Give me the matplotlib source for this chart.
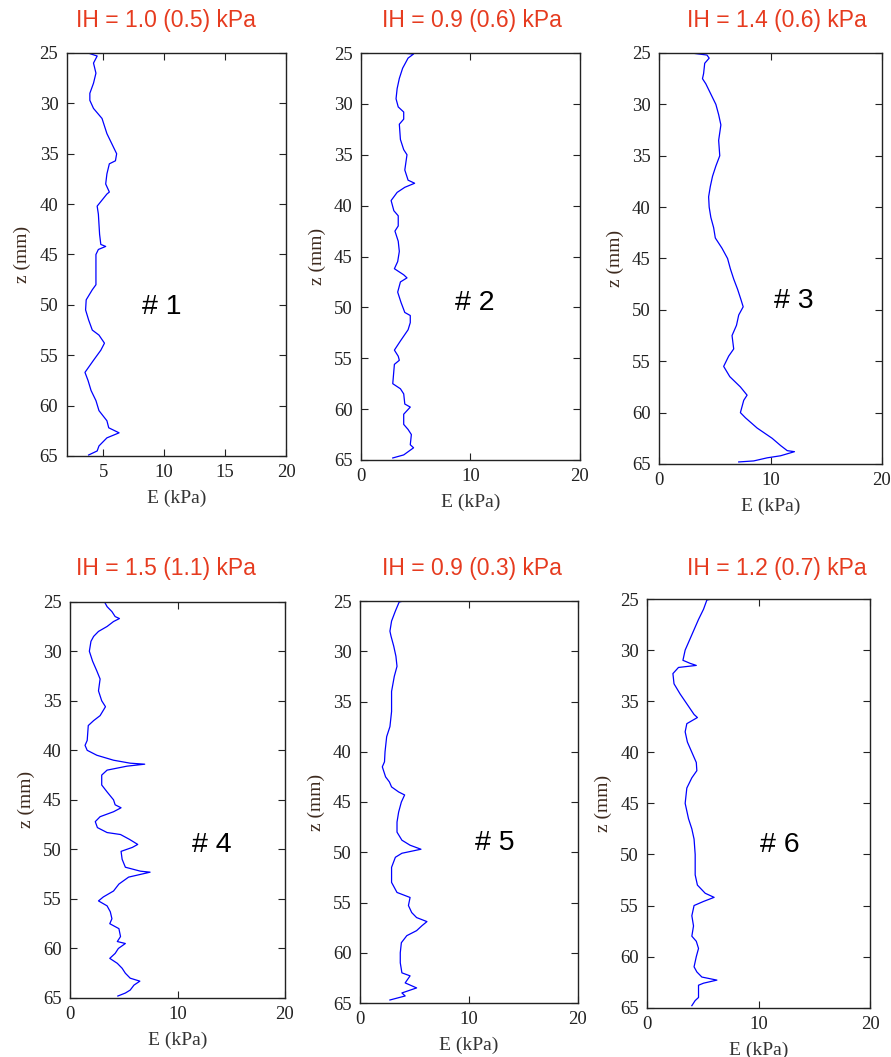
import matplotlib
matplotlib.use("Agg")
import matplotlib.pyplot as plt
import numpy as np

# depth profiles of E (kPa) vs z (mm)
z1 = [25.0, 25.3, 26.0, 27.0, 28.0, 29.0, 29.7, 30.5, 31.5, 33.0, 34.0, 35.0, 35.7, 36.0, 37.0, 38.0,
      38.8, 39.0, 40.2, 41.0, 43.0, 44.0, 44.2, 44.5, 45.0, 48.0, 48.5, 49.5, 50.5, 51.5, 52.5, 53.0,
      53.8, 54.5, 55.5, 56.7, 57.5, 58.5, 59.5, 60.5, 61.5, 62.2, 62.7, 63.2, 64.0, 64.5, 64.9]
e1 = [3.75, 4.5, 4.2, 4.4, 4.2, 3.9, 3.9, 4.2, 4.9, 5.3, 5.7, 6.1, 6.0, 5.5, 5.3, 5.2,
      5.5, 5.3, 4.5, 4.6, 4.7, 4.8, 5.2, 4.6, 4.4, 4.4, 4.1, 3.6, 3.55, 3.8, 4.1, 4.65,
      5.1, 4.8, 4.2, 3.5, 3.75, 4.0, 4.4, 4.65, 5.3, 5.45, 6.3, 5.3, 4.65, 4.5, 3.8]

z2 = [25.0, 25.1, 25.5, 26.5, 27.5, 28.5, 29.5, 30.3, 30.8, 31.5, 32.0, 33.5, 34.5, 35.0, 36.5, 37.5,
      37.8, 38.2, 38.7, 39.5, 40.5, 41.0, 42.0, 42.5, 43.5, 44.5, 45.5, 46.2, 46.8, 47.1, 47.5, 48.5,
      49.5, 50.5, 50.8, 51.5, 52.2, 53.3, 54.2, 54.8, 55.2, 55.6, 57.5, 58.0, 58.5, 59.5, 59.8, 60.5,
      61.5, 62.0, 62.5, 63.5, 63.8, 64.5, 64.8]
e2 = [3.7, 4.8, 4.3, 3.8, 3.5, 3.3, 3.2, 3.4, 3.9, 3.9, 3.5, 3.6, 3.9, 4.2, 4.0, 4.3,
      4.9, 4.0, 3.3, 2.75, 3.0, 3.4, 3.4, 3.1, 3.4, 3.5, 3.35, 3.05, 3.9, 4.2, 3.6, 3.35,
      3.65, 4.0, 4.5, 4.5, 4.3, 3.6, 3.05, 3.4, 3.5, 3.05, 2.9, 3.6, 3.9, 4.0, 4.5, 3.9,
      3.9, 4.3, 4.6, 4.5, 4.8, 3.9, 2.9]

z3 = [25.0, 25.2, 25.5, 26.0, 27.0, 27.5, 28.0, 29.0, 30.0, 31.0, 32.0, 33.5, 35.0, 36.0, 37.0, 38.0,
      39.0, 40.0, 41.0, 42.0, 43.0, 44.0, 45.0, 46.0, 47.0, 48.0, 49.0, 49.7, 50.5, 51.5, 52.5, 53.8,
      54.5, 55.5, 56.5, 57.5, 58.3, 58.8, 60.0, 60.5, 61.5, 62.5, 63.2, 63.7, 63.8, 64.2, 64.4, 64.7, 64.8]
e3 = [2.9, 4.3, 4.5, 4.1, 4.0, 3.9, 4.2, 4.65, 5.1, 5.35, 5.55, 5.35, 5.45, 5.1, 4.8, 4.6,
      4.45, 4.5, 4.65, 4.9, 5.05, 5.65, 6.15, 6.4, 6.7, 7.05, 7.35, 7.55, 7.15, 6.95, 6.55, 6.7,
      6.25, 5.8, 6.35, 7.3, 7.9, 7.6, 7.3, 7.75, 8.8, 10.15, 10.9, 11.5, 12.15, 10.9, 9.7, 8.5, 7.15]

z4 = [25.0, 25.5, 26.0, 26.5, 26.7, 27.0, 27.5, 28.0, 28.5, 29.0, 30.0, 31.0, 32.0, 32.8, 34.0, 35.0,
      35.6, 36.5, 37.0, 37.5, 39.0, 39.5, 40.0, 40.5, 41.0, 41.3, 41.4, 41.6, 42.0, 42.5, 43.5, 44.2,
      45.0, 45.5, 45.8, 46.2, 46.7, 47.2, 47.8, 48.3, 48.5, 49.0, 49.5, 49.8, 50.2, 51.0, 51.8, 52.2,
      52.3, 52.8, 53.5, 54.2, 54.8, 55.2, 55.7, 56.3, 57.0, 57.5, 58.0, 58.8, 59.3, 59.5, 60.0, 60.5,
      61.0, 61.5, 62.0, 62.5, 63.0, 63.3, 63.7, 64.2, 64.5, 64.8]
e4 = [3.2, 3.45, 3.9, 4.2, 4.6, 4.05, 3.45, 2.65, 2.2, 1.95, 1.8, 2.1, 2.5, 2.8, 2.65, 2.95,
      3.3, 2.8, 2.2, 1.7, 1.6, 1.4, 1.6, 2.5, 4.05, 5.6, 6.95, 5.3, 3.45, 2.95, 2.95, 3.45,
      4.05, 4.2, 4.75, 4.05, 2.8, 2.35, 2.55, 3.45, 4.7, 5.55, 6.3, 5.8, 4.75, 4.85, 5.15, 6.55,
      7.45, 5.45, 4.55, 4.05, 3.1, 2.65, 3.45, 3.75, 3.9, 3.7, 4.55, 4.7, 4.4, 5.15, 4.5, 4.2,
      3.7, 4.4, 4.85, 5.15, 5.6, 6.5, 5.95, 5.6, 5.15, 4.45]

z5 = [25.0, 25.1, 26.0, 27.0, 28.0, 28.5, 29.5, 30.5, 31.5, 32.5, 34.0, 36.0, 37.5, 38.5, 40.0, 41.0,
      41.5, 42.5, 43.0, 43.5, 44.0, 44.3, 45.0, 46.0, 47.0, 48.0, 48.8, 49.3, 49.7, 50.1, 50.5, 51.5,
      53.0, 54.0, 54.5, 55.3, 56.0, 56.5, 56.9, 57.3, 57.8, 58.3, 59.0, 60.0, 61.0, 62.0, 62.3, 63.0,
      63.5, 64.0, 64.3, 64.7]
e5 = [4.0, 3.6, 3.25, 2.9, 2.75, 2.85, 3.1, 3.3, 3.4, 3.15, 2.9, 2.9, 2.75, 2.45, 2.3, 2.25,
      2.05, 2.35, 2.7, 2.9, 3.55, 4.1, 3.8, 3.55, 3.4, 3.4, 3.85, 4.6, 5.6, 3.85, 3.25, 2.9,
      2.9, 3.4, 4.6, 4.45, 4.75, 5.2, 6.15, 5.7, 5.2, 4.3, 3.8, 3.7, 3.7, 3.85, 4.6, 4.15,
      5.2, 3.85, 4.15, 2.75]

z6 = [25.0, 25.1, 26.0, 27.0, 28.0, 29.0, 30.0, 31.0, 31.3, 31.5, 31.7, 32.3, 33.3, 34.3, 35.5, 36.3,
      36.6, 37.2, 38.0, 39.0, 40.0, 41.0, 41.8, 42.5, 43.5, 45.0, 45.5, 46.5, 47.5, 48.5, 50.0, 52.0,
      53.0, 53.8, 54.2, 54.6, 55.0, 56.0, 57.0, 58.0, 58.5, 59.2, 60.0, 61.0, 61.5, 62.0, 62.3, 62.6,
      62.8, 64.0, 64.3, 64.8]
e6 = [5.8, 5.35, 5.05, 4.6, 4.2, 3.8, 3.4, 3.2, 3.85, 4.4, 2.8, 2.3, 2.4, 2.95, 3.7, 4.2,
      4.5, 3.55, 3.4, 3.6, 4.0, 4.4, 4.45, 4.0, 3.55, 3.4, 3.5, 3.7, 4.0, 4.2, 4.3, 4.3,
      4.5, 5.2, 6.0, 5.05, 4.2, 4.0, 4.15, 4.0, 4.4, 4.6, 4.4, 4.2, 4.45, 4.9, 6.25, 5.05,
      4.6, 4.6, 4.3, 4.0]

titles = ["IH = 1.0 (0.5) kPa", "IH = 0.9 (0.6) kPa", "IH = 1.4 (0.6) kPa",
          "IH = 1.5 (1.1) kPa", "IH = 0.9 (0.3) kPa", "IH = 1.2 (0.7) kPa"]
tags = ["# 1", "# 2", "# 3", "# 4", "# 5", "# 6"]
zs = [z1, z2, z3, z4, z5, z6]
es = [e1, e2, e3, e4, e5, e6]

W, H = 891, 1057
# axes boxes in pixels: left, top, right, bottom
boxes = [(66.7, 53, 286, 456), (361, 53, 580, 460), (659, 53, 882, 464),
         (70, 601.7, 285, 998), (360, 601, 577.7, 1003), (647.3, 599, 870, 1007.7)]
title_xy = [(166, 20), (472, 20), (777, 20), (166, 568), (472, 568), (777, 568)]
tag_xy = [(9.8, 50.2), (10.4, 49.6), (12.1, 49.1), (13.2, 49.6), (12.4, 49.1), (11.9, 49.1)]

fig = plt.figure(figsize=(W / 100, H / 100), dpi=100)
serif = ["Liberation Serif", "DejaVu Serif"]
sans = ["Liberation Sans", "DejaVu Sans"]

for i in range(6):
    l, t, r, b = boxes[i]
    ax = fig.add_axes([l / W, 1 - b / H, (r - l) / W, (b - t) / H])
    ax.plot(es[i], zs[i], color="#0000FF", lw=0.9)
    ax.set_ylim(65, 25)
    if i == 0:
        ax.set_xlim(2, 20)
        ax.set_xticks([5, 10, 15, 20])
    else:
        ax.set_xlim(0, 20)
        ax.set_xticks([0, 10, 20])
    ax.set_yticks(np.arange(25, 66, 5))
    ax.tick_params(direction="in", length=5, width=0.8, top=True, right=True,
                   labelsize=13.5, colors="#222222", pad=6)
    for lab in ax.get_xticklabels() + ax.get_yticklabels():
        lab.set_family(serif)
    for s in ax.spines.values():
        s.set_linewidth(1.0)
        s.set_color("#222222")
    ax.set_xlabel("E (kPa)", family=serif, fontsize=14, color="#333333", labelpad=6)
    ax.set_ylabel("z (mm)", family=serif, fontsize=14, color="#3d2a1e", labelpad=6)
    ax.text(tag_xy[i][0], tag_xy[i][1], tags[i], family=sans, fontsize=20.5,
            ha="center", va="center", color="black")
    fig.text(title_xy[i][0] / W, 1 - title_xy[i][1] / H, titles[i], family=sans,
             fontsize=16.5, color="#E63B1F", ha="center", va="center")

fig.savefig("out.png", dpi=100)
